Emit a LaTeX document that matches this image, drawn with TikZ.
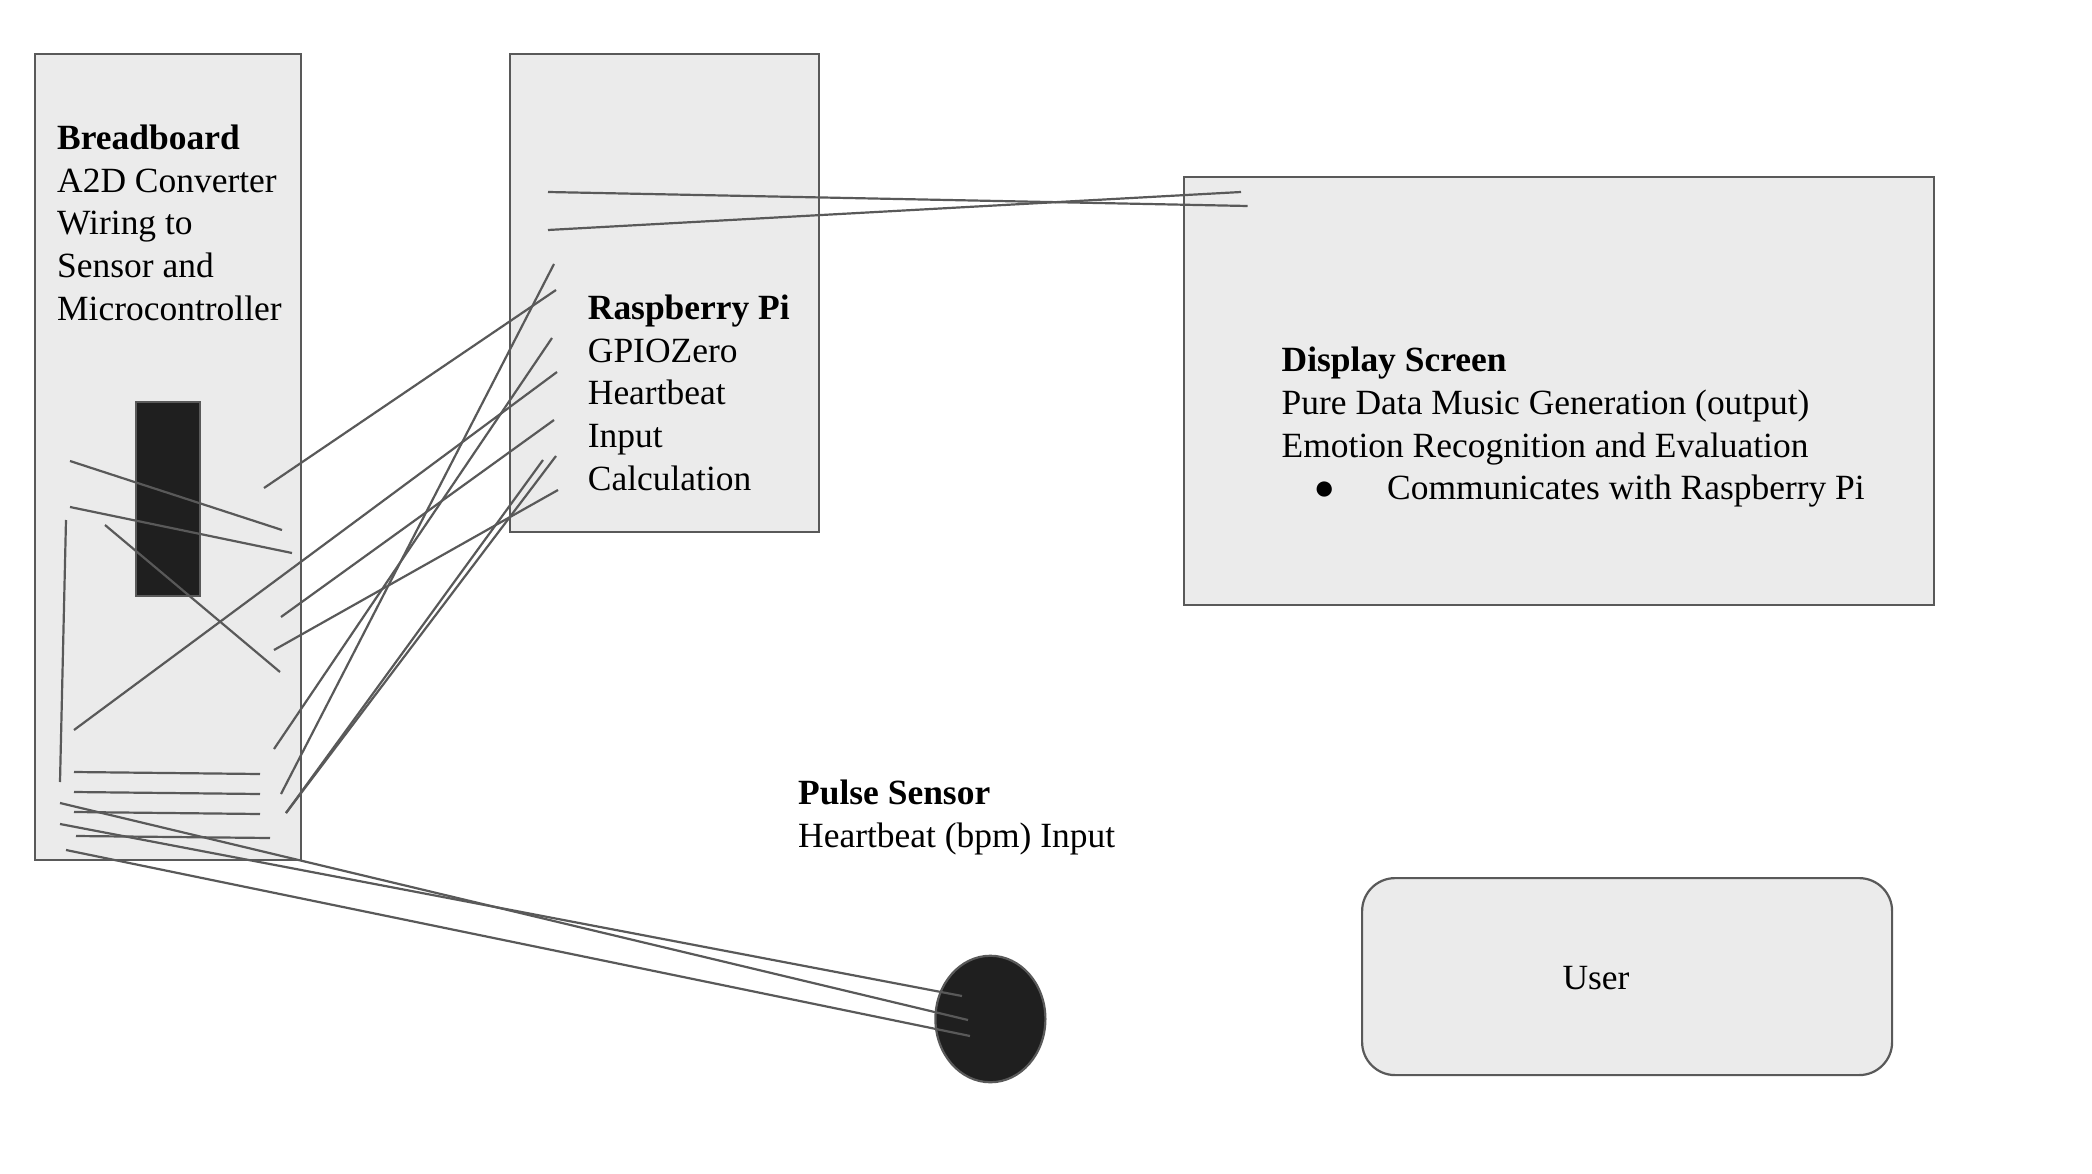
\documentclass[tikz,border=0pt]{standalone}
\usepackage{xcolor}
\usepackage{fontspec}
\setmainfont{Liberation Serif}
\usepackage{tikz}
\usetikzlibrary{shapes.geometric, positioning}
\definecolor{panelgray}{HTML}{EBEBEB}
\definecolor{darkpart}{HTML}{1F1F1F}
\definecolor{wiregray}{HTML}{595959}

\begin{document}
\begin{tikzpicture}[
  x=1pt, y=-1pt,
  panel/.style={draw=wiregray, line width=2.2pt, fill=panelgray, anchor=north west, inner sep=0pt},
  chip/.style={draw=wiregray, line width=2.2pt, fill=darkpart, anchor=north west, inner sep=0pt},
  txt/.style={anchor=north west, align=left, inner sep=0pt, font=\fontsize{35.45}{42.7}\selectfont, text=black},
  wire/.style={draw=wiregray, line width=2.2pt}
]
  \useasboundingbox (0,0) rectangle (2092,1174);

  % Main boxes
  \node[panel, minimum width=266pt, minimum height=806pt] (breadboard) at (34,53) {};
  \node[panel, minimum width=309pt, minimum height=478pt] (raspi) at (509,53) {};
  \node[panel, minimum width=750pt, minimum height=427.5pt] (screen) at (1183,176) {};
  \node[panel, rounded corners=33pt, minimum width=530pt, minimum height=197pt] (user) at (1361,877) {};

  % Parts
  \node[chip, minimum width=64pt, minimum height=194pt] (adc) at (135,401) {};
  \node[draw=wiregray, line width=2.2pt, fill=darkpart, ellipse, inner sep=0pt, minimum width=110pt, minimum height=126.5pt] (sensor) at (990.4,1019) {};

  % Labels
  \node[txt] (breadboardtxt) at (57,124.7) {\textbf{Breadboard}\\A2D Converter\\Wiring to\\Sensor and\\Microcontroller};
  \node[txt] (raspitxt) at (587.7,294.7) {\textbf{Raspberry Pi}\\GPIOZero\\Heartbeat\\Input\\Calculation};
  \node[txt] (screentxt) at (1281.5,347) {\textbf{Display Screen}\\Pure Data Music Generation (output)\\Emotion Recognition and Evaluation\\\hspace*{105.5pt}\llap{\makebox[105.5pt][l]{\hspace*{32pt}●}}Communicates with Raspberry Pi};
  \node[txt] (sensortxt) at (798,779.7) {\textbf{Pulse Sensor}\\Heartbeat (bpm) Input};
  \node[txt, anchor=center] (usertxt) at (1596,978) {User};

  % Wire ends on the breadboard
  \coordinate (b1) at (70,461);    \coordinate (b1e) at (282,530);
  \coordinate (b2) at (70,507);    \coordinate (b2e) at (292,553);
  \coordinate (b3) at (66,520);    \coordinate (b3e) at (60,782);
  \coordinate (b4) at (105,525);   \coordinate (b4e) at (280,672);
  \coordinate (h1) at (74,772);    \coordinate (h1e) at (260,774);
  \coordinate (h2) at (74,792);    \coordinate (h2e) at (260,794);
  \coordinate (h3) at (74,812);    \coordinate (h3e) at (260,814);
  \coordinate (h4) at (76,836);    \coordinate (h4e) at (270,838);

  % Wire ends between breadboard and Pi
  \coordinate (p1) at (264,488);   \coordinate (p1e) at (556,290);
  \coordinate (p2) at (74,730);    \coordinate (p2e) at (557,372);
  \coordinate (p3) at (281,617);   \coordinate (p3e) at (554,420);
  \coordinate (p4) at (274,650);   \coordinate (p4e) at (558,490);
  \coordinate (p5) at (274,749);   \coordinate (p5e) at (552,338);
  \coordinate (p6) at (281,794);   \coordinate (p6e) at (554,264);
  \coordinate (p7) at (286,813);   \coordinate (p7e) at (543,460);
  \coordinate (p8e) at (556,456);

  % Wire ends between Pi and screen
  \coordinate (t1) at (548,192);   \coordinate (t1e) at (1247.5,206);
  \coordinate (t2) at (548,230);   \coordinate (t2e) at (1241,192);

  % Wire ends to the pulse sensor
  \coordinate (s1) at (60,803);    \coordinate (s1e) at (968,1020);
  \coordinate (s2) at (60,824);    \coordinate (s2e) at (962,996);
  \coordinate (s3) at (66,850);    \coordinate (s3e) at (970,1036);

  % Wires
  \draw[wire] (b1) -- (b1e);
  \draw[wire] (b2) -- (b2e);
  \draw[wire] (b3) -- (b3e);
  \draw[wire] (b4) -- (b4e);
  \draw[wire] (h1) -- (h1e);
  \draw[wire] (h2) -- (h2e);
  \draw[wire] (h3) -- (h3e);
  \draw[wire] (h4) -- (h4e);
  \draw[wire] (p1) -- (p1e);
  \draw[wire] (p2) -- (p2e);
  \draw[wire] (p3) -- (p3e);
  \draw[wire] (p4) -- (p4e);
  \draw[wire] (p5) -- (p5e);
  \draw[wire] (p6) -- (p6e);
  \draw[wire] (p7) -- (p7e);
  \draw[wire] (p7) -- (p8e);
  \draw[wire] (t1) -- (t1e);
  \draw[wire] (t2) -- (t2e);
  \draw[wire] (s1) -- (s1e);
  \draw[wire] (s2) -- (s2e);
  \draw[wire] (s3) -- (s3e);

\end{tikzpicture}
\end{document}
